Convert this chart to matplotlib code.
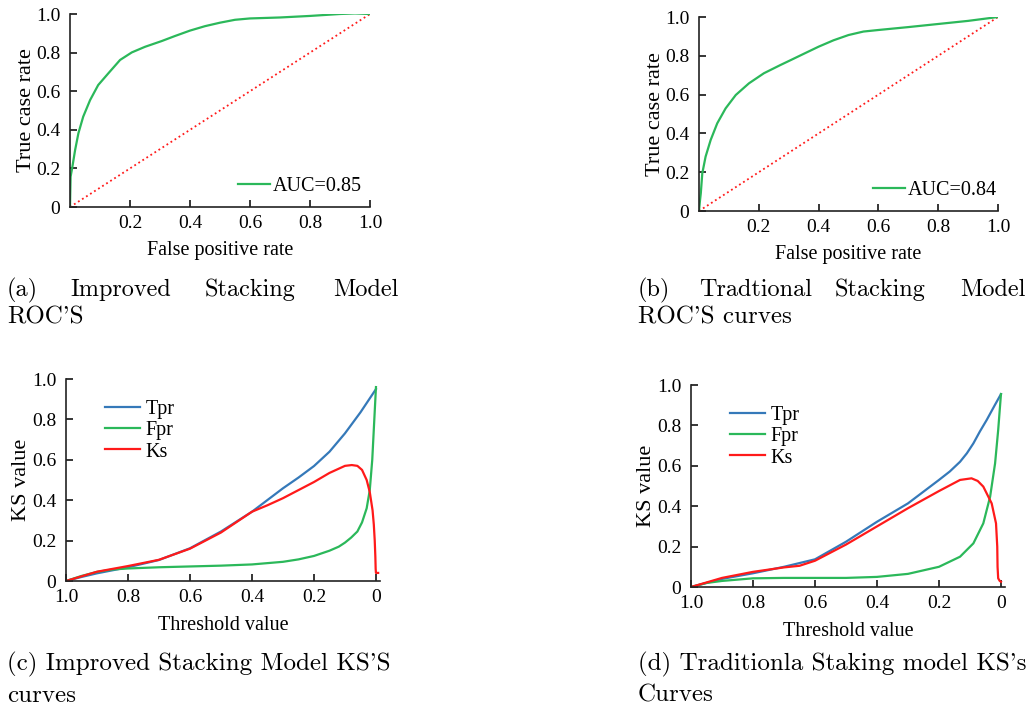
import numpy as np
import matplotlib
matplotlib.use("Agg")
from matplotlib import pyplot as plt

# ROC data
fpr_a = [0, 0.001, 0.002, 0.008, 0.017, 0.028, 0.044, 0.067, 0.094, 0.128, 0.167, 0.206,
         0.25, 0.306, 0.35, 0.4, 0.45, 0.5, 0.55, 0.6, 0.7, 0.8, 0.9, 0.95, 1.0]
tpr_a = [0, 0.08, 0.157, 0.209, 0.295, 0.382, 0.468, 0.554, 0.632, 0.693, 0.762, 0.801,
         0.83, 0.86, 0.886, 0.914, 0.937, 0.955, 0.97, 0.977, 0.982, 0.99, 1.0, 1.003, 1.0]
fpr_b = [0, 0.003, 0.006, 0.011, 0.022, 0.039, 0.061, 0.089, 0.123, 0.167, 0.217, 0.273,
         0.307, 0.35, 0.4, 0.45, 0.5, 0.55, 0.6, 0.7, 0.8, 0.9, 1.0]
tpr_b = [0, 0.05, 0.091, 0.194, 0.28, 0.366, 0.452, 0.529, 0.598, 0.658, 0.71, 0.753,
         0.778, 0.81, 0.847, 0.88, 0.907, 0.925, 0.933, 0.948, 0.964, 0.98, 1.0]
auc_labels = ["AUC=0.85", "AUC=0.84"]

# KS data (threshold decreasing to 0)
thr_c = [1.0, 0.95, 0.9, 0.8, 0.7, 0.6, 0.5, 0.4, 0.3, 0.25, 0.2, 0.15, 0.1, 0.05, 0.0]
tpr_c = [0.0, 0.02, 0.038, 0.068, 0.104, 0.162, 0.245, 0.343, 0.459, 0.512, 0.569, 0.64,
         0.731, 0.835, 0.95]
thr_cf = [1.0, 0.95, 0.9, 0.85, 0.8, 0.7, 0.6, 0.5, 0.4, 0.3, 0.25, 0.2, 0.15, 0.12, 0.1,
          0.08, 0.06, 0.045, 0.03, 0.02, 0.012, 0.006, 0.0]
fpr_c = [0.0, 0.025, 0.045, 0.057, 0.062, 0.068, 0.072, 0.076, 0.082, 0.095, 0.107, 0.124,
         0.15, 0.17, 0.19, 0.215, 0.245, 0.29, 0.36, 0.45, 0.6, 0.78, 0.96]
thr_ck = [1.0, 0.9, 0.8, 0.7, 0.6, 0.5, 0.4, 0.35, 0.3, 0.25, 0.2, 0.15, 0.1, 0.078, 0.06,
          0.045, 0.03, 0.02, 0.011, 0.007, 0.004, 0.002, 0.001, 0.0, -0.007]
ks_c = [0.0, 0.046, 0.074, 0.105, 0.16, 0.24, 0.343, 0.375, 0.41, 0.45, 0.49, 0.535, 0.57,
        0.574, 0.57, 0.55, 0.5, 0.44, 0.35, 0.28, 0.2, 0.12, 0.06, 0.04, 0.04]

thr_d = [1.0, 0.95, 0.9, 0.8, 0.7, 0.6, 0.5, 0.4, 0.3, 0.2, 0.165, 0.132, 0.11, 0.089,
         0.068, 0.046, 0.02, 0.0]
tpr_d = [0.0, 0.02, 0.04, 0.068, 0.1, 0.137, 0.224, 0.323, 0.414, 0.53, 0.572, 0.62, 0.662,
         0.711, 0.77, 0.827, 0.9, 0.955]
thr_df = [1.0, 0.95, 0.9, 0.8, 0.7, 0.6, 0.5, 0.4, 0.3, 0.2, 0.132, 0.089, 0.057, 0.035,
          0.019, 0.009, 0.0]
fpr_d = [0.0, 0.02, 0.03, 0.043, 0.045, 0.045, 0.045, 0.05, 0.065, 0.1, 0.15, 0.216, 0.315,
         0.447, 0.612, 0.777, 0.955]
thr_dk = [1.0, 0.9, 0.8, 0.7, 0.65, 0.6, 0.5, 0.4, 0.3, 0.2, 0.132, 0.095, 0.075, 0.057,
          0.03, 0.016, 0.012, 0.011, 0.009, 0.004, 0.0]
ks_d = [0.0, 0.045, 0.075, 0.097, 0.105, 0.13, 0.21, 0.3, 0.39, 0.475, 0.53, 0.538, 0.525,
        0.497, 0.414, 0.315, 0.2, 0.1, 0.043, 0.03, 0.026]

captions = [["(a)", "Improved", "Stacking", "Model"], ["(b)", "Tradtional", "Stacking", "Model"]]
caption_lines2 = ["ROC'S", "ROC'S curves"]
captions_ks = [["(c) Improved Stacking Model KS'S", "curves"],
               ["(d) Traditionla Staking model KS's", "Curves"]]

green = "#2bb85a"
blue = "#3579b9"
red = "#ff1a1a"

plt.rcParams["font.family"] = ["Liberation Serif", "DejaVu Serif"]
plt.rcParams["font.size"] = 14

fig = plt.figure(figsize=(10.29, 7.15), dpi=100)


def style_axes(ax):
    for s in ["top", "right"]:
        ax.spines[s].set_visible(False)
    for s in ["left", "bottom"]:
        ax.spines[s].set_linewidth(1.2)
        ax.spines[s].set_color("#222222")
    ax.tick_params(axis="x", direction="in", length=5, width=1.1, pad=6, labelsize=14)
    ax.tick_params(axis="y", direction="in", length=5, width=1.1, pad=7, labelsize=14)


roc_pos = [[70 / 1029, 1 - 207 / 715, 300 / 1029, 193 / 715],
           [699 / 1029, 1 - 211 / 715, 299 / 1029, 194 / 715]]
roc_data = [(fpr_a, tpr_a), (fpr_b, tpr_b)]
roc_leg = [(1.0, 0.015), (1.025, 0.015)]
for i in range(2):
    ax = fig.add_axes(roc_pos[i])
    style_axes(ax)
    f, t = roc_data[i]
    ax.plot([0, 1], [0, 1], color=red, linestyle=":", linewidth=1.3)
    ax.plot(f, t, color=green, linewidth=1.6, label=auc_labels[i])
    ax.set_xlim(0, 1)
    ax.set_ylim(0, 1)
    ax.set_xticks([0.2, 0.4, 0.6, 0.8, 1.0])
    ax.set_xticklabels(["0.2", "0.4", "0.6", "0.8", "1.0"])
    ax.set_yticks([0, 0.2, 0.4, 0.6, 0.8, 1.0])
    ax.set_yticklabels(["0", "0.2", "0.4", "0.6", "0.8", "1.0"])
    ax.set_xlabel("False positive rate", fontsize=14.5, labelpad=6)
    ax.set_ylabel("True case rate", fontsize=16, labelpad=0)
    ax.legend(loc="lower right", frameon=False, fontsize=14.5, handlelength=1.6,
              handletextpad=0.15, borderaxespad=0.0, bbox_to_anchor=roc_leg[i])

ks_pos = [[66 / 1029, 1 - 581 / 715, 314 / 1029, 202 / 715],
          [691 / 1029, 1 - 587 / 715, 314 / 1029, 202 / 715]]
ks_data = [(thr_c, tpr_c, thr_cf, fpr_c, thr_ck, ks_c),
           (thr_d, tpr_d, thr_df, fpr_d, thr_dk, ks_d)]
for i in range(2):
    ax = fig.add_axes(ks_pos[i])
    style_axes(ax)
    t1, y1, t2, y2, t3, y3 = ks_data[i]
    ax.plot(t1, y1, color=blue, linewidth=1.6, label="Tpr")
    ax.plot(t2, y2, color=green, linewidth=1.6, label="Fpr")
    ax.plot(t3, y3, color=red, linewidth=1.6, label="Ks")
    ax.set_xlim(1.0, -0.013)
    ax.set_ylim(0, 1)
    ax.set_xticks([1.0, 0.8, 0.6, 0.4, 0.2, 0])
    ax.set_xticklabels(["1.0", "0.8", "0.6", "0.4", "0.2", "0"])
    ax.set_yticks([0, 0.2, 0.4, 0.6, 0.8, 1.0])
    ax.set_yticklabels(["0", "0.2", "0.4", "0.6", "0.8", "1.0"])
    ax.set_xlabel("Threshold value", fontsize=14.5, labelpad=7)
    ax.set_ylabel("KS value", fontsize=16, labelpad=1)
    ax.legend(loc="upper left", frameon=False, fontsize=14.5, handlelength=1.7,
              handletextpad=0.3, labelspacing=0.1, borderaxespad=0.0,
              bbox_to_anchor=(0.1, 0.935))

# captions (computer modern look)
cap_font = dict(family="cmr10", fontsize=17.5, va="baseline")
cap_font2 = dict(family="cmr10", fontsize=18, va="baseline")
word_x = [[7, 70, 205, 333], [638, 699, 835, 960]]
for i in range(2):
    for w, x in zip(captions[i], word_x[i]):
        fig.text(x / 1029, 1 - 296 / 715, w, **cap_font)
    fig.text(word_x[i][0] / 1029, 1 - 323 / 715, caption_lines2[i], **cap_font2)
for i in range(2):
    fig.text(word_x[i][0] / 1029, 1 - 670 / 715, captions_ks[i][0], **cap_font2)
    fig.text(word_x[i][0] / 1029, 1 - 702 / 715, captions_ks[i][1], **cap_font2)

fig.savefig("out.png", dpi=100)
